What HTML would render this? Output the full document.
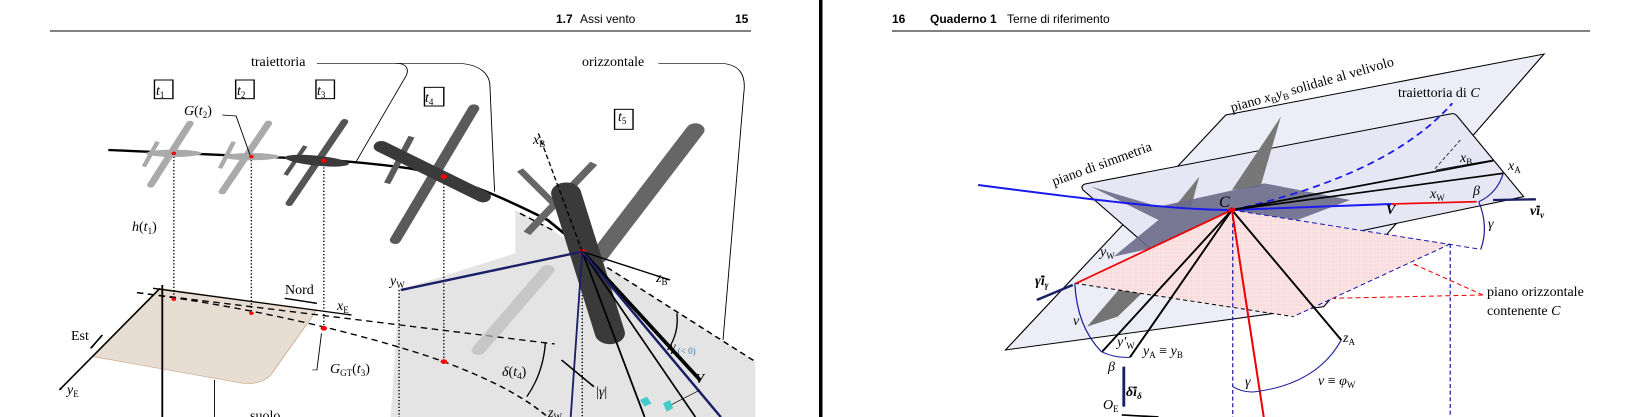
<!DOCTYPE html>
<html><head><meta charset="utf-8"><style>
html,body{margin:0;padding:0;background:#fff;}
svg{display:block;font-family:"Liberation Serif",serif;}
.h{font-family:"Liberation Sans",sans-serif;font-size:12px;}
</style></head><body>
<svg width="1640" height="417" viewBox="0 0 1640 417">
<defs>
<marker id="ab" markerWidth="8" markerHeight="8" refX="7" refY="4" orient="auto" markerUnits="userSpaceOnUse"><path d="M0,1 L8,4 L0,7z" fill="#000"/></marker>
<marker id="an" markerWidth="10" markerHeight="10" refX="9" refY="5" orient="auto" markerUnits="userSpaceOnUse"><path d="M0,1 L10,5 L0,9z" fill="#1a1f66"/></marker>
<marker id="ar" markerWidth="8" markerHeight="8" refX="7" refY="4" orient="auto" markerUnits="userSpaceOnUse"><path d="M0,1 L8,4 L0,7z" fill="#e00"/></marker>
<marker id="abl" markerWidth="8" markerHeight="8" refX="7" refY="4" orient="auto" markerUnits="userSpaceOnUse"><path d="M0,1 L8,4 L0,7z" fill="#1a1aee"/></marker>
<pattern id="hatch" width="4" height="4" patternUnits="userSpaceOnUse"><rect width="4" height="4" fill="#fbeaea"/><circle cx="1" cy="1" r="0.7" fill="#e77"/></pattern>
</defs>

<g>
<text class="h" x="556" y="23" font-weight="bold">1.7</text>
<text class="h" x="580" y="23">Assi vento</text>
<text class="h" x="735" y="23" font-weight="bold">15</text>
<line x1="50" y1="31" x2="751" y2="31" stroke="#000" stroke-width="1"/>
</g>
<rect x="819" y="0" width="3.5" height="417" fill="#000"/>
<g>
<text class="h" x="892" y="23" font-weight="bold">16</text>
<text class="h" x="930" y="23" font-weight="bold">Quaderno 1</text>
<text class="h" x="1007" y="23">Terne di riferimento</text>
<line x1="892" y1="31" x2="1590" y2="31" stroke="#000" stroke-width="1"/>
</g>

<g transform="translate(40,40) scale(0.4615,0.3333)">
<polygon points="1030,510 1100,560 1175,635 1550,965 1550,1131 760,1131 778,750 1030,640" fill="#e4e4e4"/>
<path d="M115,950 L260,745 L600,810 L500,1005 Q480,1035 440,1030 Z" fill="#e8ddd2" stroke="#c9a98a" stroke-width="2"/>
<g stroke="#000" stroke-width="3" stroke-dasharray="4,6" fill="none">
<line x1="290" y1="340" x2="290" y2="780"/><line x1="458" y1="350" x2="458" y2="820"/>
<line x1="615" y1="362" x2="615" y2="865"/><line x1="875" y1="410" x2="875" y2="965"/>
<line x1="1175" y1="635" x2="1175" y2="1131"/><line x1="778" y1="750" x2="778" y2="1131"/>
</g>
<line x1="245" y1="745" x2="675" y2="825" stroke="#000" stroke-width="4" marker-end="url(#ab)"/>
<line x1="260" y1="745" x2="42" y2="1050" stroke="#000" stroke-width="4" marker-end="url(#ab)"/>
<line x1="265" y1="735" x2="265" y2="1131" stroke="#000" stroke-width="4"/>
<g stroke="#000" stroke-width="4" stroke-dasharray="14,10" fill="none">
<line x1="210" y1="758" x2="1115" y2="912"/>
<path d="M210,758 C450,800 700,880 875,965 C960,1010 1040,1060 1100,1131"/>
<path d="M1175,635 L1550,965"/>
<path d="M1040,520 L1110,570"/>
</g>
<path d="M148,330 L560,355 C640,360 720,370 800,385 C900,410 1000,470 1100,540 L1180,630" stroke="#000" stroke-width="7" fill="none"/>
<g fill="#aaa">
<line x1="325" y1="250" x2="240" y2="435" stroke="#aaa" stroke-width="16" stroke-linecap="round"/>
<line x1="255" y1="305" x2="225" y2="380" stroke="#aaa" stroke-width="10"/>
<ellipse cx="290" cy="340" rx="60" ry="11"/></g>
<g fill="#aaa">
<line x1="495" y1="250" x2="395" y2="455" stroke="#aaa" stroke-width="16" stroke-linecap="round"/>
<line x1="420" y1="305" x2="390" y2="385" stroke="#aaa" stroke-width="10"/>
<ellipse cx="458" cy="350" rx="60" ry="11"/></g>
<g fill="#3a3a3a">
<line x1="660" y1="245" x2="540" y2="490" stroke="#555" stroke-width="16" stroke-linecap="round"/>
<line x1="575" y1="318" x2="532" y2="405" stroke="#555" stroke-width="10"/>
<ellipse cx="600" cy="362" rx="70" ry="15" transform="rotate(8 600 362)"/></g>
<g fill="#3a3a3a">
<line x1="940" y1="205" x2="770" y2="600" stroke="#5a5a5a" stroke-width="24" stroke-linecap="round"/>
<line x1="805" y1="290" x2="752" y2="430" stroke="#5a5a5a" stroke-width="14"/>
<line x1="740" y1="320" x2="960" y2="470" stroke="#3a3a3a" stroke-width="34" stroke-linecap="round"/></g>
<g fill="#3a3a3a">
<line x1="1420" y1="270" x2="1210" y2="650" stroke="#666" stroke-width="40" stroke-linecap="round"/>
<line x1="1200" y1="370" x2="1055" y2="580" stroke="#666" stroke-width="18"/>
<line x1="1040" y1="390" x2="1120" y2="500" stroke="#666" stroke-width="16"/>
<line x1="1140" y1="460" x2="1235" y2="880" stroke="#3a3a3a" stroke-width="65" stroke-linecap="round"/>
<line x1="1100" y1="690" x2="950" y2="930" stroke="#bbb" stroke-width="30" stroke-linecap="round" opacity="0.7"/></g>
<g fill="red"><circle cx="290" cy="340" r="5"/><circle cx="458" cy="350" r="5"/><circle cx="615" cy="362" r="6"/><circle cx="875" cy="410" r="7"/><circle cx="1175" cy="635" r="8"/><circle cx="290" cy="778" r="5"/><circle cx="458" cy="820" r="5"/><circle cx="615" cy="865" r="7"/><circle cx="875" cy="965" r="7"/></g>
<line x1="1080" y1="280" x2="1175" y2="635" stroke="#000" stroke-width="3" stroke-dasharray="14,8"/>
<line x1="1175" y1="635" x2="782" y2="750" stroke="#1a1f66" stroke-width="7" marker-end="url(#an)"/>
<line x1="1175" y1="635" x2="1365" y2="720" stroke="#000" stroke-width="4" marker-end="url(#ab)"/>
<line x1="1175" y1="635" x2="1430" y2="1020" stroke="#000" stroke-width="9" marker-end="url(#ab)"/>
<g stroke-width="4" fill="none">
<line x1="1175" y1="635" x2="1150" y2="1131" stroke="#1a1f66"/>
<line x1="1175" y1="635" x2="1310" y2="1131" stroke="#000"/>
<line x1="1175" y1="635" x2="1420" y2="1131" stroke="#000"/>
<line x1="1175" y1="635" x2="1475" y2="1131" stroke="#1a1f66" stroke-width="6"/>
<path d="M1095,910 Q1090,1000 1055,1070" stroke="#000" stroke-width="3"/>
<path d="M1380,820 Q1385,880 1360,930" stroke="#000" stroke-width="3"/>
<line x1="1130" y1="960" x2="1200" y2="1040" stroke="#000" marker-end="url(#ab)"/>
<line x1="1360" y1="1100" x2="1430" y2="1050" stroke="#000" stroke-width="2"/>
</g>
<polygon points="1300,1080 1315,1070 1325,1090 1310,1100" fill="#4cc"/><polygon points="1350,1090 1365,1080 1372,1105 1358,1115" fill="#4cc"/>
<line x1="530" y1="775" x2="600" y2="790" stroke="#000" stroke-width="4" marker-end="url(#ab)"/>
<line x1="135" y1="885" x2="110" y2="925" stroke="#000" stroke-width="4" marker-end="url(#ab)"/>
<g fill="none" stroke="#000" stroke-width="2">
<path d="M600,70 L770,70 C800,70 800,95 790,115 L685,365"/>
<path d="M770,70 L900,70 C960,70 975,110 975,140 L985,455"/>
<path d="M1340,70 L1470,70 C1520,70 1530,110 1525,160 L1480,900"/>
<path d="M395,225 L425,228 L455,345"/>
<path d="M590,990 L600,990 L610,880"/>
<line x1="378" y1="1020" x2="378" y2="1131"/>
<rect x="248" y="120" width="40" height="56" stroke-width="3"/><rect x="424" y="120" width="40" height="56" stroke-width="3"/>
<rect x="598" y="120" width="40" height="56" stroke-width="3"/><rect x="833" y="142" width="42" height="56" stroke-width="3"/>
<rect x="1245" y="208" width="40" height="60" stroke-width="3"/>
</g>
</g>
<g font-size="14">
<text x="251" y="66">traiettoria</text><text x="582" y="66">orizzontale</text>
<text x="156" y="95" font-style="italic">t<tspan font-size="9" font-style="normal" dy="3">1</tspan></text>
<text x="237" y="95" font-style="italic">t<tspan font-size="9" font-style="normal" dy="3">2</tspan></text>
<text x="317" y="95" font-style="italic">t<tspan font-size="9" font-style="normal" dy="3">3</tspan></text>
<text x="425" y="102" font-style="italic">t<tspan font-size="9" font-style="normal" dy="3">4</tspan></text>
<text x="618" y="121" font-style="italic">t<tspan font-size="9" font-style="normal" dy="3">5</tspan></text>
<text x="184" y="115"><tspan font-style="italic">G</tspan>(<tspan font-style="italic">t</tspan><tspan font-size="9" dy="3">2</tspan><tspan dy="-3">)</tspan></text>
<text x="132" y="231"><tspan font-style="italic">h</tspan>(<tspan font-style="italic">t</tspan><tspan font-size="9" dy="3">1</tspan><tspan dy="-3">)</tspan></text>
<text x="285" y="294">Nord</text>
<text x="337" y="310" font-style="italic">x<tspan font-size="9" font-style="normal" dy="3">E</tspan></text>
<text x="71" y="340">Est</text>
<text x="67" y="394" font-style="italic">y<tspan font-size="9" font-style="normal" dy="3">E</tspan></text>
<text x="330" y="373"><tspan font-style="italic">G</tspan><tspan font-size="9" dy="3">GT</tspan><tspan dy="-3">(</tspan><tspan font-style="italic">t</tspan><tspan font-size="9" dy="3">3</tspan><tspan dy="-3">)</tspan></text>
<text x="502" y="376"><tspan font-style="italic">δ</tspan>(<tspan font-style="italic">t</tspan><tspan font-size="9" dy="3">4</tspan><tspan dy="-3">)</tspan></text>
<text x="596" y="396">|<tspan font-style="italic">γ</tspan>|</text>
<text x="670" y="351" font-style="italic">γ<tspan font-size="9" fill="#3a7fb0" font-style="normal" dy="3"> (&lt; 0)</tspan></text>
<text x="695" y="383" font-weight="bold" font-style="italic">V</text>
<text x="390" y="285" font-style="italic">y<tspan font-size="9" font-style="normal" dy="3">W</tspan></text>
<text x="656" y="282" font-style="italic">z<tspan font-size="9" font-style="normal" dy="3">B</tspan></text>
<text x="533" y="144" font-style="italic">x<tspan font-size="9" font-style="normal" dy="3">B</tspan></text>
<text x="548" y="417" font-style="italic">z<tspan font-size="9" font-style="normal" dy="3">W</tspan></text>
<text x="250" y="420">suolo</text>
</g>

<g transform="translate(930,40) scale(0.408,0.3333)">
<polygon points="185,930 725,225 1505,42 965,800" fill="#ededf8" stroke="#000" stroke-width="3"/>
<path d="M380,432 L1275,222 Q1285,218 1292,228 L1455,470 L600,690 L375,450 Q368,438 380,432Z" fill="#e6e6f5" stroke="#000" stroke-width="3"/>
<polygon points="860,230 740,450 810,440" fill="#777"/>
<polygon points="660,410 600,500 640,500" fill="#777"/>
<polygon points="395,440 560,500 820,430 1030,480 900,540 600,610 450,650 560,540" fill="#6c6c8a" opacity="0.9"/>
<polygon points="560,610 385,860 460,830 620,640" fill="#666" opacity="0.9"/>
<polygon points="740,510 1275,612 890,830 355,730" fill="url(#hatch)"/>
<g stroke="#1a1aaa" stroke-width="3" stroke-dasharray="12,8" fill="none">
<line x1="740" y1="510" x2="1350" y2="628"/>
<line x1="1275" y1="612" x2="1275" y2="1131"/><line x1="742" y1="510" x2="742" y2="1131"/>
<line x1="1275" y1="612" x2="890" y2="830"/></g>
<line x1="355" y1="730" x2="890" y2="830" stroke="#000" stroke-width="3" stroke-dasharray="10,8"/>
<line x1="1380" y1="360" x2="1240" y2="390" stroke="#000" stroke-width="2"/>
<line x1="1300" y1="300" x2="1235" y2="390" stroke="#000" stroke-width="2" stroke-dasharray="10,6"/>
<path d="M118,435 C400,480 600,510 740,510 L1130,492" stroke="#1a1aee" stroke-width="6" fill="none" marker-end="url(#abl)"/>
<path d="M740,510 C1000,440 1180,330 1280,190" stroke="#1a1aee" stroke-width="5" stroke-dasharray="18,12" fill="none" marker-end="url(#abl)"/>
<g stroke="#000" stroke-width="5" fill="none" marker-end="url(#ab)">
<line x1="740" y1="510" x2="1405" y2="400"/><line x1="740" y1="510" x2="1380" y2="362"/>
<line x1="740" y1="510" x2="422" y2="935"/><line x1="740" y1="510" x2="490" y2="952"/>
<line x1="740" y1="510" x2="1008" y2="900"/></g>
<g stroke="#e00" stroke-width="5" fill="none">
<line x1="1130" y1="492" x2="1340" y2="485" marker-end="url(#ar)"/>
<line x1="740" y1="510" x2="358" y2="730" marker-end="url(#ar)"/>
<line x1="740" y1="510" x2="818" y2="1131"/></g>
<g stroke="#1a1f99" stroke-width="3" fill="none">
<path d="M1405,400 Q1390,460 1345,485"/><path d="M1345,485 Q1370,560 1350,628"/>
<path d="M355,730 Q360,860 420,935"/><path d="M420,935 Q455,955 490,952"/>
<path d="M742,1040 Q770,1060 800,1055 Q950,1030 1008,900"/></g>
<g stroke="#1a1f66" stroke-width="7" marker-end="url(#an)">
<line x1="1380" y1="480" x2="1485" y2="478"/><line x1="350" y1="735" x2="262" y2="780"/><line x1="475" y1="980" x2="475" y2="1100"/></g>
<line x1="470" y1="1125" x2="560" y2="1131" stroke="#000" stroke-width="5"/>
<g stroke="#e00" stroke-width="3" stroke-dasharray="12,8" fill="none">
<path d="M1355,765 L1185,672" marker-end="url(#ar)"/><path d="M1355,765 L988,775" marker-end="url(#ar)"/></g>
<circle cx="740" cy="510" r="8" fill="#e00"/>
</g>
<g font-size="14">
<text x="1232" y="112" transform="rotate(-16 1232 112)">piano <tspan font-style="italic">x</tspan><tspan font-size="9" dy="3">B</tspan><tspan font-style="italic" dy="-3">y</tspan><tspan font-size="9" dy="3">B</tspan><tspan dy="-3"> solidale al velivolo</tspan></text>
<text x="1398" y="97">traiettoria di <tspan font-style="italic">C</tspan></text>
<text x="1054" y="186" transform="rotate(-20 1054 186)">piano di simmetria</text>
<text x="1219" y="207" font-style="italic" font-size="16">C</text>
<text x="1386" y="214" font-weight="bold" font-style="italic">V</text>
<text x="1430" y="198" font-style="italic">x<tspan font-size="9" font-style="normal" dy="3">W</tspan></text>
<text x="1460" y="162" font-style="italic">x<tspan font-size="9" font-style="normal" dy="3">B</tspan></text>
<text x="1508" y="170" font-style="italic">x<tspan font-size="9" font-style="normal" dy="3">A</tspan></text>
<text x="1473" y="195" font-style="italic">β</text>
<text x="1488" y="228" font-style="italic">γ</text>
<text x="1530" y="215" font-weight="bold" font-style="italic">ν̇i<tspan font-size="9" dy="3">ν</tspan></text>
<text x="1100" y="256" font-style="italic">y<tspan font-size="9" font-style="normal" dy="3">W</tspan></text>
<text x="1035" y="285" font-weight="bold" font-style="italic">γ̇i<tspan font-size="9" dy="3">γ</tspan></text>
<text x="1073" y="325" font-style="italic">ν</text>
<text x="1117" y="346" font-style="italic">y′<tspan font-size="9" font-style="normal" dy="3">W</tspan></text>
<text x="1143" y="355"><tspan font-style="italic">y</tspan><tspan font-size="9" dy="3">A</tspan><tspan dy="-3"> ≡ </tspan><tspan font-style="italic">y</tspan><tspan font-size="9" dy="3">B</tspan></text>
<text x="1343" y="342" font-style="italic">z<tspan font-size="9" font-style="normal" dy="3">A</tspan></text>
<text x="1108" y="371" font-style="italic">β</text>
<text x="1245" y="386" font-style="italic">γ</text>
<text x="1318" y="385"><tspan font-style="italic">ν</tspan> ≡ <tspan font-style="italic">φ</tspan><tspan font-size="9" dy="3">W</tspan></text>
<text x="1126" y="396" font-weight="bold" font-style="italic">δ̇i<tspan font-size="9" dy="3">δ</tspan></text>
<text x="1103" y="409" font-style="italic">O<tspan font-size="9" font-style="normal" dy="3">E</tspan></text>
<text x="1487" y="296">piano orizzontale</text>
<text x="1487" y="315">contenente <tspan font-style="italic">C</tspan></text>
</g>
</svg>
</body></html>
